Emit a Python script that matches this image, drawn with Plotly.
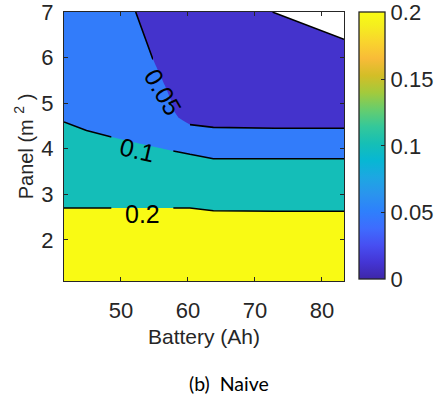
import plotly.graph_objects as go

# ---- data ----
battery = [41.5, 48.6, 52.1, 54.8, 57.8, 58.6, 60.3, 63.8, 73.0, 83.3]   # Ah
panel = [1.1, 2.5, 2.9, 3.5, 4.1, 4.4, 4.8, 5.4, 6.0, 7.0]              # m^2
# z[i][j] : value at panel[i], battery[j]
z = [
    [0.35, 0.35, 0.35, 0.35, 0.35, 0.35, 0.35, 0.35, 0.35, 0.35],
    [0.21, 0.21, 0.21, 0.21, 0.21, 0.21, 0.21, 0.2081, 0.2072, 0.2072],
    [0.19, 0.19, 0.19, 0.19, 0.19, 0.19, 0.19, 0.185, 0.185, 0.185],
    [0.14, 0.135, 0.13, 0.1217, 0.115, 0.1152, 0.1138, 0.1088, 0.1088, 0.1088],
    [0.115, 0.1056, 0.1015, 0.098, 0.095, 0.094, 0.092, 0.09, 0.09, 0.09],
    [0.1045, 0.095, 0.09, 0.085, 0.07, 0.0593, 0.0539, 0.0521, 0.0514, 0.0514],
    [0.095, 0.085, 0.08, 0.07, 0.0517, 0.046, 0.042, 0.04, 0.04, 0.04],
    [0.085, 0.077, 0.07, 0.0569, 0.045, 0.04, 0.035, 0.03, 0.025, 0.022],
    [0.075, 0.07, 0.06, 0.0495, 0.04, 0.036, 0.03, 0.022, 0.018, 0.015],
    [0.06, 0.058, 0.0502, 0.045, 0.035, 0.03, 0.025, 0.015, 0.0098, 0.0025],
]
levels = [0.01, 0.05, 0.1, 0.2]
level_labels = ["0.05", "0.1", "0.2"]
label_x = [56.3, 52.5, 53.2]
label_y = [5.25, 3.98, 2.57]
label_angle = [60, 13, 0]
# column index ranges where each contour line is drawn (gaps under labels)
line_segments = {0.01: [(0, 10)], 0.05: [(0, 4), (6, 10)],
                 0.1: [(0, 2), (4, 10)], 0.2: [(0, 2), (4, 10)]}

x_ticks = [50, 60, 70, 80]
y_ticks = [2, 3, 4, 5, 6, 7]
cb_ticks = [0, 0.05, 0.1, 0.15, 0.2]
cb_text = ["0", "0.05", "0.1", "0.15", "0.2"]

# ---- style ----
fill_colors = ["rgb(68,51,204)", "rgb(50,124,250)", "rgb(20,190,184)", "rgb(249,250,20)"]
parula = [
    [0.000, "rgb(62,38,168)"], [0.063, "rgb(68,53,213)"], [0.127, "rgb(71,79,242)"],
    [0.190, "rgb(62,108,254)"], [0.254, "rgb(46,128,252)"], [0.317, "rgb(42,148,238)"],
    [0.381, "rgb(29,167,226)"], [0.444, "rgb(7,183,211)"], [0.508, "rgb(22,191,181)"],
    [0.571, "rgb(52,200,154)"], [0.635, "rgb(103,205,109)"], [0.698, "rgb(163,202,60)"],
    [0.762, "rgb(211,190,39)"], [0.825, "rgb(248,187,56)"], [0.889, "rgb(249,213,45)"],
    [0.952, "rgb(245,239,30)"], [1.000, "rgb(249,251,21)"],
]
axis_col = "#262626"
font_fam = "Liberation Sans, Arial, sans-serif"

fig = go.Figure()

# plotly shades the region that does NOT satisfy the constraint,
# so "<" level shades z >= level
for lv, col in zip(levels, fill_colors):
    fig.add_trace(go.Contour(
        x=battery, y=panel, z=z,
        contours=dict(type="constraint", operation="<", value=lv),
        fillcolor=col, line=dict(width=0, smoothing=0),
        showscale=False, hoverinfo="skip"))

for lv in levels:
    for a, b in line_segments[lv]:
        fig.add_trace(go.Contour(
            x=battery[a:b], y=panel, z=[row[a:b] for row in z],
            contours=dict(coloring="none", start=lv, end=lv, size=1, showlines=True),
            line=dict(color="black", width=1.6, smoothing=0),
            showscale=False, hoverinfo="skip"))

fig.add_trace(go.Scatter(
    x=[None], y=[None], mode="markers", showlegend=False, hoverinfo="skip",
    marker=dict(color=[0], cmin=0, cmax=0.2, colorscale=parula, showscale=True,
                colorbar=dict(
                    thickness=26, thicknessmode="pixels", len=267, lenmode="pixels",
                    x=(359 - 64) / 280, xanchor="left", y=(281 - 279.3) / 269, yanchor="bottom",
                    xpad=0, ypad=0, outlinecolor=axis_col, outlinewidth=1.3,
                    ticks="inside", ticklen=4, tickcolor=axis_col,
                    tickvals=cb_ticks, ticktext=cb_text, ticklabeloverflow="allow",
                    tickfont=dict(family=font_fam, size=22, color=axis_col)))))

for t, xx, yy, ang in zip(level_labels, label_x, label_y, label_angle):
    fig.add_annotation(x=xx, y=yy, text=t, showarrow=False, textangle=ang,
                       font=dict(family=font_fam, size=25, color="black"))

fig.add_annotation(xref="paper", yref="paper", x=(228.5 - 64) / 280, y=(281 - 383) / 269,
                   text="(b)\u00a0 Naive", showarrow=False, yanchor="middle",
                   font=dict(family="Lato, Open Sans, sans-serif", size=19.5, color="black"))

axis_common = dict(showline=True, linecolor=axis_col, linewidth=1.3, mirror="allticks",
                   ticks="inside", ticklen=4, tickcolor=axis_col, showgrid=False,
                   zeroline=False, ticklabeloverflow="allow",
                   tickfont=dict(family=font_fam, size=22, color=axis_col))

fig.update_layout(
    width=443, height=395, margin=dict(l=64, r=99, t=12, b=114, autoexpand=False),
    paper_bgcolor="white", plot_bgcolor="white", showlegend=False,
    xaxis=dict(range=[41.5, 83.3], tickvals=x_ticks, ticklabelstandoff=9,
               title=dict(text="Battery (Ah)", standoff=7,
                          font=dict(family=font_fam, size=21, color=axis_col)),
               **axis_common),
    yaxis=dict(range=[1.1, 7.0], tickvals=y_ticks, ticklabelstandoff=5,
               title=dict(text="Panel (m\u00a0<sup>2</sup>\u00a0)", standoff=2,
                          font=dict(family=font_fam, size=20, color=axis_col)),
               **axis_common),
)

fig.write_html("out.html")
